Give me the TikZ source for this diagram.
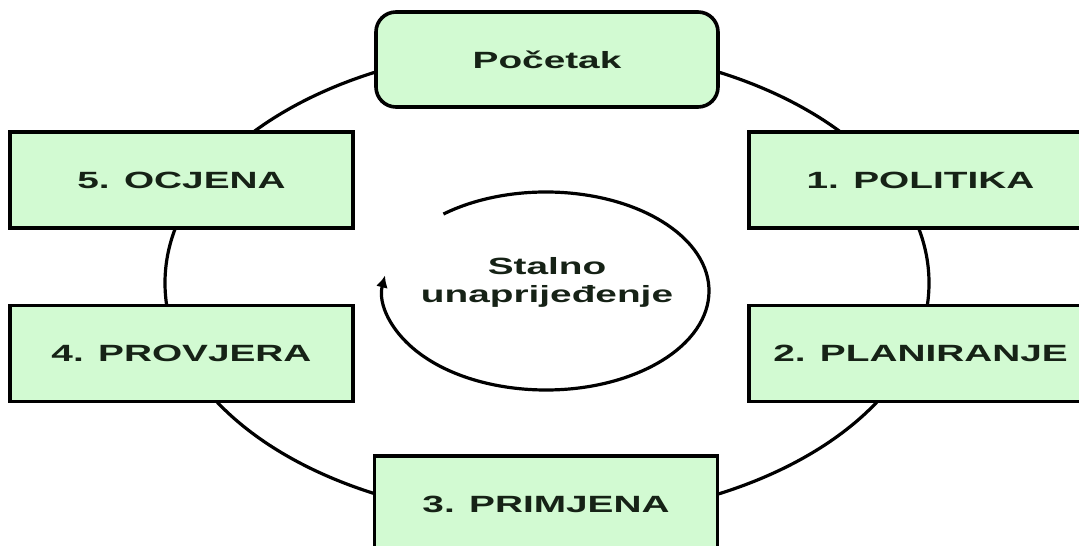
\documentclass[tikz,border=0pt]{standalone}
\usepackage{fontspec}
\setmainfont{Liberation Sans}
\usetikzlibrary{arrows.meta,shapes.geometric}
\definecolor{boxgreen}{RGB}{210,250,210}
\definecolor{inkdark}{RGB}{22,34,22}
\newcommand{\wide}[1]{\scalebox{1.65}[1]{#1}}

\begin{document}
\begin{tikzpicture}[x=1pt,y=1pt,
    ringline/.style={line width=3.2pt},
    stepbox/.style={draw, line width=3.6pt, fill=boxgreen, text=inkdark,
      minimum width=343pt, minimum height=96pt, inner sep=0pt,
      font=\fontsize{23.5}{28}\selectfont\bfseries},
    startbox/.style={stepbox, rounded corners=20pt, minimum width=342pt, minimum height=95pt}]
		\def \xl {181.5}
		\def \xr {920.5}
		\def \yt {366}
		\def \yb {192.5}

		\path[use as bounding box, clip] (0,0) rectangle (1079,546);

		% ring behind the steps
		\node (ring) [ellipse, draw, ringline, minimum width=764pt, minimum height=472pt, inner sep=0pt] at (547,263) {};

		\node (pocetak)    [startbox] at (547,486.5) {\wide{Početak}};
		\node (politika)   [stepbox]  at (\xr,\yt)  {\wide{1. POLITIKA}};
		\node (planiranje) [stepbox]  at (\xr,\yb)  {\wide{2. PLANIRANJE}};
		\node (primjena)   [stepbox]  at (546,42)   {\wide{3. PRIMJENA}};
		\node (provjera)   [stepbox]  at (\xl,\yb)  {\wide{4. PROVJERA}};
		\node (ocjena)     [stepbox]  at (\xl,\yt)  {\wide{5. OCJENA}};

		% inner loop
		\coordinate (loop) at (546,255);
		\node (stalno) [text=inkdark, align=center, font=\fontsize{23.5}{28}\selectfont\bfseries] at (547,264)
			{\wide{Stalno}\\\wide{unaprijeđenje}};
		\draw[ringline, -{Latex[length=12pt,width=12pt]}] (loop) ++(129:163pt and 99pt)
			arc[start angle=129, end angle=-189, x radius=163pt, y radius=99pt];
	\end{tikzpicture}
\end{document}
